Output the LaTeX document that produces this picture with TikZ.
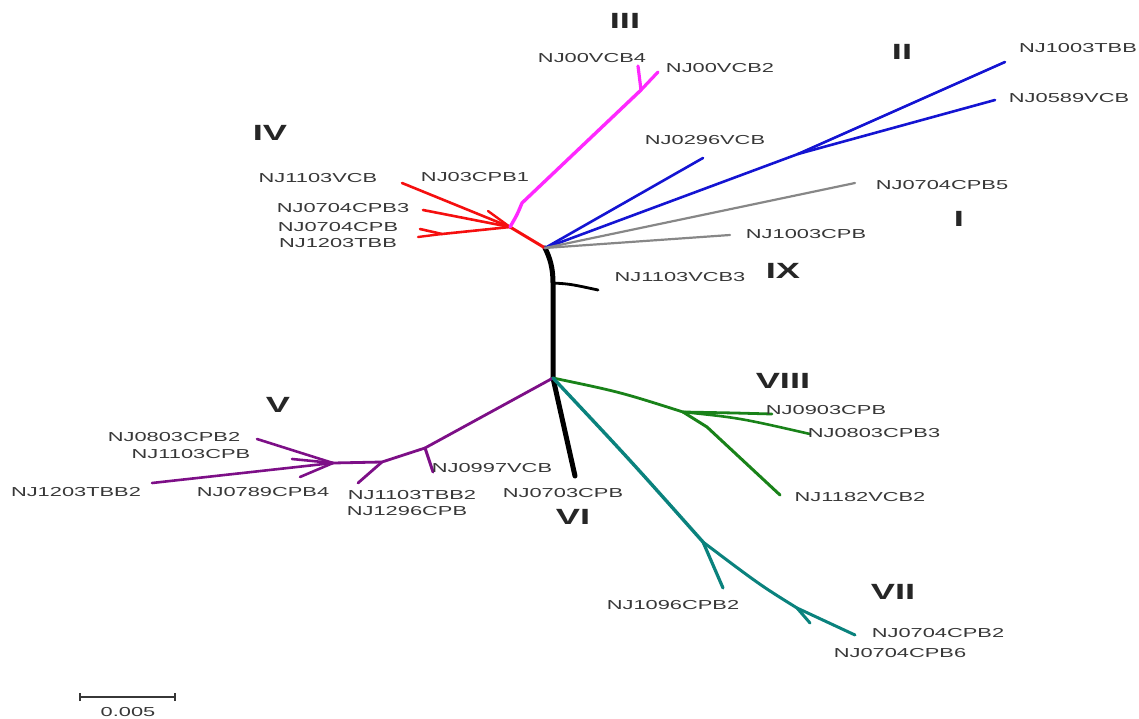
\documentclass[tikz,border=0pt]{standalone}
\usepackage{fontspec}
\usepackage{graphicx}
\setmainfont{Liberation Sans}
\newcommand\stx[1]{\scalebox{1.68}[1]{#1}}
\newcommand\stxr[1]{\scalebox{1.65}[1]{#1}}
\definecolor{labgray}{RGB}{55,55,55}
\definecolor{cmag}{RGB}{255,40,255}
\definecolor{cblue}{RGB}{20,20,210}
\definecolor{cgrey}{RGB}{135,135,135}
\definecolor{cred}{RGB}{245,15,15}
\definecolor{cpurp}{RGB}{125,15,135}
\definecolor{cgreen}{RGB}{25,130,25}
\definecolor{cteal}{RGB}{10,130,125}
\tikzset{
  lab/.style={font=\fontsize{13}{13}\selectfont, text=labgray, inner sep=0pt},
  rom/.style={font=\fontsize{22}{22}\selectfont\bfseries, text=black!85, inner sep=0pt},
  br/.style={line width=#1, line cap=round, line join=round},
  br/.default=2.6pt
}
\begin{document}
\begin{tikzpicture}[x=1pt,y=-1pt]
\useasboundingbox (0,0) rectangle (1139,719);
% ---------- coordinates ----------
\coordinate (hubU) at (545,248);
\coordinate (hubL) at (553,378);
\coordinate (n9) at (553,283);
\coordinate (t9) at (598,290);
% red
\coordinate (nr) at (510,227);
\coordinate (tr1) at (402,183);
\coordinate (tr2) at (423,210);
\coordinate (tr2b) at (488,211);
\coordinate (tr3) at (420,229);
\coordinate (tr4) at (418,237);
\coordinate (nr4) at (442,234);
% magenta
\coordinate (nm1) at (522,203);
\coordinate (nm) at (641,90);
\coordinate (tm1) at (638,66);
\coordinate (tm2) at (658,72);
% blue
\coordinate (tb1) at (703,158);
\coordinate (nb) at (798,154);
\coordinate (tb2) at (1005,62);
\coordinate (tb3) at (995,100);
% grey
\coordinate (tg1) at (855,183);
\coordinate (tg2) at (730,235);
% purple
\coordinate (np1) at (425,448);
\coordinate (tp1) at (433,472);
\coordinate (np2) at (382,462);
\coordinate (tp2) at (358,483);
\coordinate (np3) at (333,463);
\coordinate (tp3) at (257,439);
\coordinate (tp4) at (292,459);
\coordinate (tp5) at (152,483);
\coordinate (tp6) at (300,477);
% black VI
\coordinate (t6) at (575,476);
% green
\coordinate (ng1) at (683,412);
\coordinate (ng2) at (735,413);
\coordinate (tgr1) at (772,414);
\coordinate (tgr2) at (810,434);
\coordinate (ng3) at (707,427);
\coordinate (tgr3) at (780,495);
% teal
\coordinate (nt1) at (703,542);
\coordinate (tt1) at (723,588);
\coordinate (nt2) at (797,608);
\coordinate (tt2) at (855,635);
\coordinate (tt3) at (810,623);
% ---------- branches ----------
% black trunk
\draw[br=5pt] (hubU) .. controls (550,258) and (553,268) .. (n9) -- (hubL);
\draw[br=2.8pt] (n9) .. controls (570,284) .. (t9);
\draw[br=5pt] (hubL) -- (t6);
% red
\draw[cred,br=3pt] (hubU) -- (nr);
\draw[cred,br=2.6pt] (nr) -- (tr1);
\draw[cred,br=2.6pt] (nr) -- (tr2);
\draw[cred,br=2.4pt] (nr) -- (tr2b);
\draw[cred,br=2.6pt] (nr) -- (nr4) -- (tr3);
\draw[cred,br=2.4pt] (nr4) -- (tr4);
% magenta
\draw[cmag,br=3.4pt] (nr) .. controls (517,215) .. (nm1) -- (nm);
\draw[cmag,br=3.2pt] (nm) -- (tm1);
\draw[cmag,br=3.2pt] (nm) -- (tm2);
% blue
\draw[cblue,br=2.6pt] (hubU) -- (tb1);
\draw[cblue,br=2.6pt] (hubU) -- (nb);
\draw[cblue,br=2.6pt] (nb) -- (tb2);
\draw[cblue,br=2.6pt] (nb) -- (tb3);
% grey
\draw[cgrey,br=2.2pt] (hubU) -- (tg1);
\draw[cgrey,br=2.2pt] (hubU) -- (tg2);
% purple
\draw[cpurp,br=2.8pt] (hubL) -- (np1) -- (np2) -- (np3);
\draw[cpurp,br=3pt] (np1) -- (tp1);
\draw[cpurp,br=2.8pt] (np2) -- (tp2);
\draw[cpurp,br=2.6pt] (np3) -- (tp3);
\draw[cpurp,br=2.6pt] (np3) -- (tp4);
\draw[cpurp,br=2.6pt] (np3) -- (tp5);
\draw[cpurp,br=2.6pt] (np3) -- (tp6);
% green
\draw[cgreen,br=2.8pt] (hubL) .. controls (620,392) .. (ng1) -- (ng2) -- (tgr1);
\draw[cgreen,br=2.6pt] (ng1) .. controls (740,418) .. (tgr2);
\draw[cgreen,br=3pt] (ng1) -- (ng3) -- (tgr3);
% teal
\draw[cteal,br=3.4pt] (hubL) .. controls (630,460) .. (nt1);
\draw[cteal,br=3.2pt] (nt1) -- (tt1);
\draw[cteal,br=3pt] (nt1) .. controls (760,585) .. (nt2) -- (tt2);
\draw[cteal,br=3pt] (nt2) -- (tt3);
% ---------- labels ----------
\node[rom] (rIII) at (625,21) {\stxr{III}};
\node[rom] (rII) at (902,52) {\stxr{II}};
\node[rom] (rI) at (959,219) {\stxr{I}};
\node[rom] (rIV) at (270,133) {\stxr{IV}};
\node[rom] (rIX) at (783,271) {\stxr{IX}};
\node[rom] (rV) at (278,405) {\stxr{V}};
\node[rom] (rVI) at (573,517) {\stxr{VI}};
\node[rom] (rVIII) at (783,381) {\stxr{VIII}};
\node[rom] (rVII) at (893,592) {\stxr{VII}};
\node[lab] (l1) at (592,58) {\stx{NJ00VCB4}};
\node[lab] (l2) at (720,68) {\stx{NJ00VCB2}};
\node[lab] (l3) at (1078,48) {\stx{NJ1003TBB}};
\node[lab] (l4) at (1069,98) {\stx{NJ0589VCB}};
\node[lab] (l5) at (705,140) {\stx{NJ0296VCB}};
\node[lab] (l6) at (942,185) {\stx{NJ0704CPB5}};
\node[lab] (l7) at (806,234) {\stx{NJ1003CPB}};
\node[lab] (l8) at (680,277) {\stx{NJ1103VCB3}};
\node[lab] (l9) at (318,178) {\stx{NJ1103VCB}};
\node[lab] (l10) at (475,177) {\stx{NJ03CPB1}};
\node[lab] (l11) at (343,208) {\stx{NJ0704CPB3}};
\node[lab] (l12) at (338,227) {\stx{NJ0704CPB}};
\node[lab] (l13) at (338,243) {\stx{NJ1203TBB}};
\node[lab] (l14) at (174,437) {\stx{NJ0803CPB2}};
\node[lab] (l15) at (191,454) {\stx{NJ1103CPB}};
\node[lab] (l16) at (76,492) {\stx{NJ1203TBB2}};
\node[lab] (l17) at (263,492) {\stx{NJ0789CPB4}};
\node[lab] (l18) at (412,495) {\stx{NJ1103TBB2}};
\node[lab] (l19) at (407,511) {\stx{NJ1296CPB}};
\node[lab] (l20) at (492,468) {\stx{NJ0997VCB}};
\node[lab] (l21) at (563,493) {\stx{NJ0703CPB}};
\node[lab] (l22) at (826,410) {\stx{NJ0903CPB}};
\node[lab] (l23) at (874,433) {\stx{NJ0803CPB3}};
\node[lab] (l24) at (860,497) {\stx{NJ1182VCB2}};
\node[lab] (l25) at (673,605) {\stx{NJ1096CPB2}};
\node[lab] (l26) at (938,633) {\stx{NJ0704CPB2}};
\node[lab] (l27) at (900,653) {\stx{NJ0704CPB6}};
% scale bar
\coordinate (sb1) at (80,697);
\coordinate (sb2) at (175,697);
\draw[labgray,line width=1.2pt] (sb1) -- (sb2);
\draw[labgray,line width=1.2pt] ([yshift=-4pt]sb1) -- ([yshift=4pt]sb1);
\draw[labgray,line width=1.2pt] ([yshift=-4pt]sb2) -- ([yshift=4pt]sb2);
\node[lab] (sbl) at (128,712) {\stx{0.005}};
\end{tikzpicture}
\end{document}
